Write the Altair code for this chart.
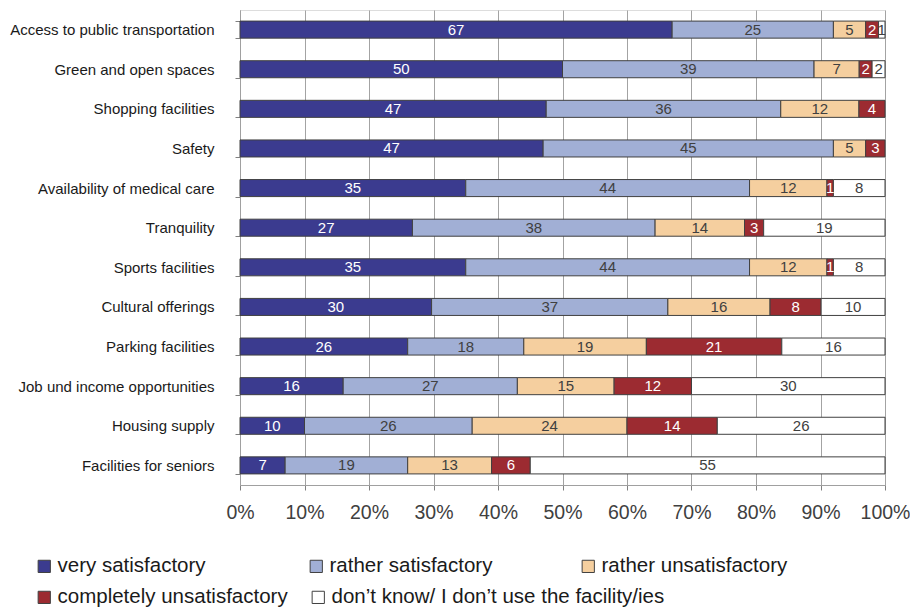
import altair as alt
import pandas as pd

categories = [
    "Access to public transportation",
    "Green and open spaces",
    "Shopping facilities",
    "Safety",
    "Availability of medical care",
    "Tranquility",
    "Sports facilities",
    "Cultural offerings",
    "Parking facilities",
    "Job und income opportunities",
    "Housing supply",
    "Facilities for seniors",
]
statuses = [
    "very satisfactory",
    "rather satisfactory",
    "rather unsatisfactory",
    "completely unsatisfactory",
    "don\u2019t know/ I don\u2019t use the facility/ies",
]
very_sat = [67, 50, 47, 47, 35, 27, 35, 30, 26, 16, 10, 7]
rather_sat = [25, 39, 36, 45, 44, 38, 44, 37, 18, 27, 26, 19]
rather_unsat = [5, 7, 12, 5, 12, 14, 12, 16, 19, 15, 24, 13]
complete_unsat = [2, 2, 4, 3, 1, 3, 1, 8, 21, 12, 14, 6]
dont_know = [1, 2, 0, 0, 8, 19, 8, 10, 16, 30, 26, 55]
colors = ["#3B3B8F", "#A1AFD5", "#F5CF9F", "#9C2B31", "#FFFFFF"]

series = [very_sat, rather_sat, rather_unsat, complete_unsat, dont_know]
rows = []
for si, (status, vals) in enumerate(zip(statuses, series)):
    for cat, v in zip(categories, vals):
        rows.append({"category": cat, "status": status, "order": si, "value": v})
df = pd.DataFrame(rows)

FONT = "Liberation Sans"

base = (
    alt.Chart(df)
    .transform_filter("datum.value > 0")
    .transform_stack(
        stack="value",
        groupby=["category"],
        as_=["x0", "x1"],
        offset="normalize",
        sort=[alt.SortField("order", order="ascending")],
    )
    .transform_calculate(
        mid="(datum.x0 + datum.x1) / 2",
        tcolor="(datum.order == 0 || datum.order == 3) ? '#FFFFFF' : '#404040'",
    )
)

yenc = alt.Y(
    "category:N",
    sort=categories,
    title=None,
    scale=alt.Scale(paddingInner=0.57, paddingOuter=0.28),
    axis=alt.Axis(
        tickBand="extent",
        labelFontSize=15,
        labelColor="#1A1A1A",
        labelFont=FONT,
        labelPadding=21,
        labelLimit=400,
        tickSize=5,
        tickColor="#808080",
        domainColor="#A0A0A0",
        grid=False,
    ),
)

xenc = alt.X(
    "x0:Q",
    title=None,
    scale=alt.Scale(domain=[0, 1], nice=False),
    axis=alt.Axis(
        format="%",
        values=[i / 10 for i in range(11)],
        labelOverlap=False,
        labelFlush=False,
        labelFontSize=19.5,
        labelColor="#404040",
        labelFont=FONT,
        labelPadding=13,
        tickSize=5,
        tickColor="#808080",
        domainColor="#A0A0A0",
        grid=True,
        gridColor="#A3A3A3",
        gridWidth=1,
    ),
)


def legend(x, y, cols, align, pad):
    return alt.Legend(
        title=None,
        orient="none",
        legendX=x,
        legendY=y,
        direction="horizontal",
        columns=cols,
        gridAlign=align,
        columnPadding=pad,
        symbolType="square",
        symbolSize=150,
        symbolStrokeColor="#404040",
        symbolStrokeWidth=1,
        symbolOffset=0,
        labelFontSize=20.5,
        labelFont=FONT,
        labelColor="#1A1A1A",
        labelOffset=3,
        labelLimit=500,
    )


bars1 = base.transform_filter("datum.order < 3").mark_bar(
    stroke="#404040", strokeWidth=1
).encode(
    y=yenc,
    x=xenc,
    x2="x1:Q",
    color=alt.Color(
        "status:N",
        sort=statuses[:3],
        scale=alt.Scale(domain=statuses[:3], range=colors[:3]),
        legend=legend(-206, 546, 3, "all", 62),
    ),
)

bars2 = base.transform_filter("datum.order >= 3").mark_bar(
    stroke="#404040", strokeWidth=1
).encode(
    y=yenc,
    x=xenc,
    x2="x1:Q",
    fill=alt.Fill(
        "status:N",
        sort=statuses[3:],
        scale=alt.Scale(domain=statuses[3:], range=colors[3:]),
        legend=legend(-206, 577, 2, "each", 20),
    ),
)

labels = base.mark_text(fontSize=15, font=FONT).encode(
    y=alt.Y("category:N", sort=categories),
    x=alt.X("mid:Q"),
    text=alt.Text("value:Q"),
    color=alt.Color("tcolor:N", scale=None),
)

chart = (
    alt.layer(bars1, bars2, labels)
    .resolve_scale(color="independent", fill="independent")
    .properties(
        width=645,
        height=475,
        autosize=alt.AutoSizeParams(type="none"),
        padding={"left": 232, "top": 2, "right": 25, "bottom": 122},
    )
    .configure_view(fill="#D3D4D9", stroke="#A0A0A0", strokeWidth=1)
    .configure(background="#FFFFFF")
)

chart.save("out.html", embed_options={"renderer": "svg", "actions": False})
